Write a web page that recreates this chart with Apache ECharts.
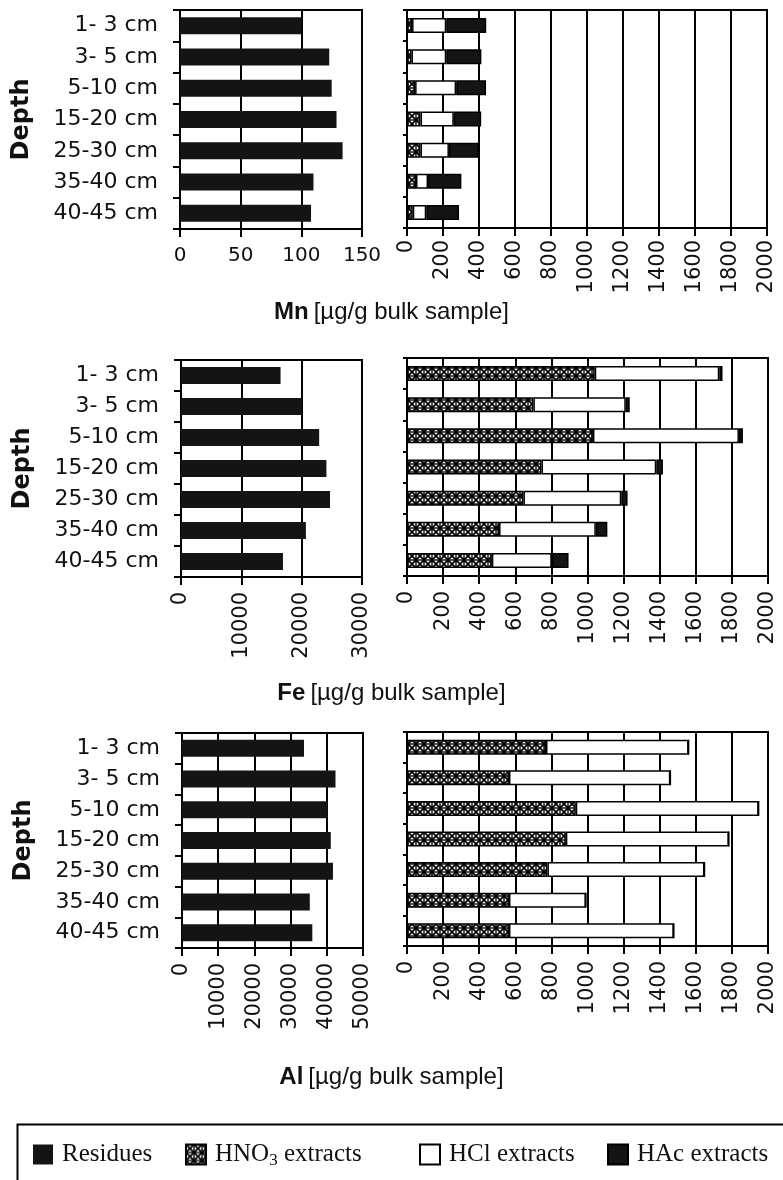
<!DOCTYPE html>
<html>
<head>
<meta charset="utf-8">
<script src="https://cdn.jsdelivr.net/npm/echarts@6/dist/echarts.min.js"></script>
<style>
  html, body { margin: 0; padding: 0; background: #fff; }
  #chart { width: 783px; height: 1180px; }
</style>
</head>
<body>
<div id="chart"></div>
<script>
// depth classes (top to bottom)
var depths = ['1- 3 cm', '3- 5 cm', '5-10 cm', '15-20 cm', '25-30 cm', '35-40 cm', '40-45 cm'];

// Mn  [ug/g bulk sample]
var mnResidues = [100, 123, 125, 129, 134, 110, 108];
var mnHNO3 = [28, 25, 45, 75, 75, 50, 32];
var mnHCl = [190, 193, 228, 185, 158, 67, 75];
var mnHAc = [222, 195, 166, 152, 165, 185, 182];

// Fe
var feResidues = [16500, 20000, 22900, 24100, 24700, 20700, 16900];
var feHNO3 = [1040, 700, 1030, 745, 645, 510, 470];
var feHCl = [690, 512, 809, 636, 542, 536, 332];
var feHAc = [18, 22, 22, 37, 35, 64, 93];

// Al
var alResidues = [33700, 42400, 40200, 41100, 41700, 35300, 36000];
var alHNO3 = [770, 565, 935, 880, 778, 565, 565];
var alHCl = [790, 894, 1013, 903, 870, 426, 913];
var alHAc = [0, 0, 0, 0, 0, 0, 0];

var sans = 'DejaVu Sans';
var black = '#141414';

// crosshatch tile for the HNO3 fill
function hatch() {
  var c = document.createElement('canvas');
  c.width = 8; c.height = 8;
  var g = c.getContext('2d');
  g.fillStyle = '#fff';
  g.fillRect(0, 0, 8, 8);
  g.strokeStyle = '#000';
  g.lineWidth = 1.8;
  g.beginPath();
  g.moveTo(0, 0); g.lineTo(8, 8);
  g.moveTo(8, 0); g.lineTo(0, 8);
  g.stroke();
  g.lineWidth = 1.4;
  g.strokeRect(0, 0, 8, 8);
  return c;
}
var hatchFill = { image: hatch(), repeat: 'repeat' };

var chart = echarts.init(document.getElementById('chart'));

// grids: [left, top, width, height]
var boxes = [
  [180, 10, 182, 219], [407, 10, 360, 218],
  [181, 360, 181, 217], [407, 358, 361, 218],
  [182, 733, 181, 215], [407, 732, 361, 214]
];
var maxes = [150, 2000, 30000, 2000, 50000, 2000];
var steps = [50, 200, 10000, 200, 10000, 200];

function plain(v) { return String(v); }

var grids = [], xAxes = [], yAxes = [];
for (var i = 0; i < 6; i++) {
  var b = boxes[i];
  var isLeft = i % 2 === 0;
  grids.push({
    left: b[0], top: b[1], width: b[2], height: b[3],
    show: true, borderColor: '#000', borderWidth: 2
  });
  xAxes.push({
    type: 'value', gridIndex: i, min: 0, max: maxes[i], interval: steps[i],
    axisLine: { show: true, lineStyle: { color: '#000', width: 2 } },
    axisTick: { show: true, length: 8, lineStyle: { color: '#000', width: 2 } },
    splitLine: { show: true, lineStyle: { color: '#000', width: 2 } },
    axisLabel: i === 0
      ? { fontFamily: sans, fontSize: 20, color: '#111', margin: 17, formatter: plain }
      : { fontFamily: sans, fontSize: 21, color: '#111', rotate: 90, margin: i === 1 ? 12 : 15, formatter: plain }
  });
  yAxes.push({
    type: 'category', gridIndex: i, data: depths, inverse: true,
    name: isLeft ? 'Depth' : '', nameLocation: 'middle', nameRotate: 90, nameGap: 146,
    nameTextStyle: { fontFamily: sans, fontWeight: 'bold', fontSize: 24, color: '#111' },
    axisLine: { show: true, lineStyle: { color: '#000', width: 2 } },
    axisTick: { show: true, length: isLeft ? 7 : 4, lineStyle: { color: '#000', width: 2 } },
    axisLabel: { show: isLeft, fontFamily: sans, fontSize: 22, color: '#111', margin: 22 }
  });
}

var extractStyle = { borderColor: '#000', borderWidth: 1.5 };
var series = [];
function residues(idx, data) {
  series.push({
    name: 'Residues', type: 'bar', xAxisIndex: idx, yAxisIndex: idx,
    data: data, barWidth: 17, itemStyle: { color: black }, silent: true
  });
}
function extracts(idx, key, hno3, hcl, hac) {
  series.push({
    name: 'HNO3 extracts', type: 'bar', stack: key, xAxisIndex: idx, yAxisIndex: idx,
    data: hno3, barWidth: 15, itemStyle: Object.assign({ color: hatchFill }, extractStyle)
  });
  series.push({
    name: 'HCl extracts', type: 'bar', stack: key, xAxisIndex: idx, yAxisIndex: idx,
    data: hcl, barWidth: 15, itemStyle: Object.assign({ color: '#fff' }, extractStyle)
  });
  series.push({
    name: 'HAc extracts', type: 'bar', stack: key, xAxisIndex: idx, yAxisIndex: idx,
    data: hac, barWidth: 15, itemStyle: Object.assign({ color: black }, extractStyle)
  });
}
residues(0, mnResidues);
extracts(1, 'mn', mnHNO3, mnHCl, mnHAc);
residues(2, feResidues);
extracts(3, 'fe', feHNO3, feHCl, feHAc);
residues(4, alResidues);
extracts(5, 'al', alHNO3, alHCl, alHAc);

function axisTitle(el, top) {
  return {
    text: '{b|' + el + '} {n|[µg/g bulk sample]}',
    left: 'center', top: top, padding: 0,
    textStyle: {
      fontWeight: 'normal',
      rich: {
        b: { fontFamily: 'Liberation Sans', fontWeight: 'bold', fontSize: 24, color: '#111' },
        n: { fontFamily: 'Liberation Sans', fontWeight: 'normal', fontSize: 24, color: '#111' }
      }
    }
  };
}

var serif = 'Liberation Serif';
function legendItem(name, left, fmt) {
  return {
    left: left, top: 1142, padding: 0, itemWidth: 20, itemHeight: 20,
    selectedMode: false, icon: 'rect',
    data: [name],
    formatter: fmt || '{a|{name}}',
    textStyle: {
      fontFamily: serif, fontSize: 25, color: '#111', padding: [0, 0, 0, 4],
      rich: {
        a: { fontFamily: serif, fontSize: 25, color: '#111' },
        s: { fontFamily: serif, fontSize: 17, color: '#111', padding: [12, 0, 0, 0] }
      }
    }
  };
}

chart.setOption({
  backgroundColor: '#fff',
  animation: false,
  title: [axisTitle('Mn', 300), axisTitle('Fe', 681), axisTitle('Al', 1065)],
  legend: [
    legendItem('Residues', 33),
    legendItem('HNO3 extracts', 185, '{a|HNO}{s|3}{a| extracts}'),
    legendItem('HCl extracts', 419),
    legendItem('HAc extracts', 607)
  ],
  graphic: [{
    type: 'rect', left: 15, top: 1122,
    shape: { width: 790, height: 90 },
    style: { fill: 'none', stroke: '#000', lineWidth: 2 }
  }],
  grid: grids,
  xAxis: xAxes,
  yAxis: yAxes,
  series: series
});
</script>
</body>
</html>
